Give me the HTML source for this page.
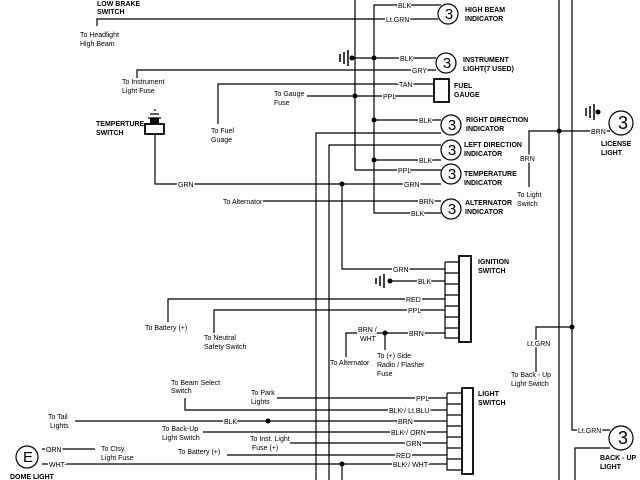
<!DOCTYPE html>
<html><head><meta charset="utf-8"><style>
html,body{margin:0;padding:0;background:#fff}
svg{display:block}
text{font-family:"Liberation Sans",sans-serif;fill:#000}
.l{font-size:7px}
.b{font-size:7px;font-weight:bold}
.w{font-size:7px}
</style></head><body>
<svg width="640" height="480" viewBox="0 0 640 480" xmlns="http://www.w3.org/2000/svg">
<g stroke="#000" stroke-width="1.2" fill="none">
<!-- verticals -->
<path d="M355 0V170H441"/>
<path d="M441 5H374V213H441"/>
<path d="M316 480V133H441"/>
<path d="M329 480V145H441"/>
<path d="M342 184V269H445"/>
<path d="M559 0V480"/>
<path d="M572 0V430H610"/>
<path d="M575 480V448H610"/>
<!-- top wires -->
<path d="M97 26V19H438"/>
<path d="M137 78V70H436"/>
<path d="M218 124V84H434"/>
<path d="M307 96H434"/>
<path d="M155 135V184H441"/>
<path d="M263 201H441"/>
<path d="M352 58H436"/>
<path d="M374 120H441"/>
<path d="M374 160H441"/>
<!-- license -->
<path d="M529 187V131H610"/>
<path d="M536 372V327H572"/>
<!-- ignition -->
<path d="M390 281H445"/>
<path d="M168 322V299H445"/>
<path d="M214 333V310H445"/>
<path d="M346 357V333H445"/>
<path d="M385 333V350"/>
<!-- light switch -->
<path d="M277 398H447"/>
<path d="M185 398V410H447"/>
<path d="M75 421H447"/>
<path d="M203 432H447"/>
<path d="M290 443H447"/>
<path d="M227 455H447"/>
<path d="M42 464H447"/>
<path d="M42 449H95"/>
<path d="M342 464V480"/>
<!-- bulbs -->
<circle cx="448" cy="14" r="10"/>
<circle cx="446" cy="63" r="10"/>
<circle cx="451" cy="125" r="10"/>
<circle cx="451" cy="150" r="10"/>
<circle cx="451" cy="174" r="10"/>
<circle cx="451" cy="209" r="10"/>
<circle cx="621" cy="123" r="12"/>
<circle cx="621" cy="438" r="12"/>
<circle cx="27" cy="457" r="11"/>
<rect x="434" y="79" width="15" height="23" stroke-width="1.8"/>
<!-- connectors -->
<rect x="459" y="256" width="12" height="86" stroke-width="1.8"/>
<path d="M445 262H459M445 262V338H459M445 273H459M445 284H459M445 295H459M445 306H459M445 317H459M445 328H459"/>
<rect x="462" y="388" width="11" height="86" stroke-width="1.8"/>
<path d="M447 393H462M447 393V470H462M447 404H462M447 415H462M447 426H462M447 437H462M447 448H462M447 459H462"/>
<!-- temp switch -->
<rect x="145" y="124" width="19" height="10" stroke-width="1.8"/>
<path d="M148 118H161M150 114H159M154 110H156"/>
<!-- grounds -->
<path d="M340 54V62M344 52V64M348 50V66" stroke-width="1.5"/>
<path d="M376 278V284M380 276V286M384 274V288" stroke-width="1.5"/>
<path d="M586 108V116M590 106V118M594 104V120" stroke-width="1.5"/>
</g>
<g fill="#000">
<circle cx="352" cy="58" r="2.5"/><circle cx="374" cy="58" r="2.5"/>
<circle cx="355" cy="96" r="2.5"/><circle cx="374" cy="120" r="2.5"/>
<circle cx="374" cy="160" r="2.5"/><circle cx="342" cy="184" r="2.5"/>
<circle cx="559" cy="131" r="2.5"/><circle cx="572" cy="327" r="2.5"/>
<circle cx="390" cy="281" r="2.5"/><circle cx="385" cy="333" r="2.5"/>
<circle cx="268" cy="421" r="2.5"/><circle cx="342" cy="464" r="2.5"/>
<circle cx="598" cy="112" r="2.5"/>
<rect x="150" y="118" width="9" height="6"/>
</g>
<g font-size="15" text-anchor="middle">
<text x="449" y="19">3</text><text x="447" y="68">3</text><text x="452" y="130">3</text>
<text x="452" y="155">3</text><text x="452" y="179">3</text><text x="452" y="214">3</text>
<text x="623" y="129" font-size="18">3</text><text x="623" y="444" font-size="18">3</text>
<text x="28" y="462">E</text>
</g>
<g class="b">
<text x="97" y="6">LOW BRAKE</text><text x="97" y="14">SWITCH</text>
<text x="465" y="12">HIGH BEAM</text><text x="465" y="21">INDICATOR</text>
<text x="463" y="62">INSTRUMENT</text><text x="463" y="71">LIGHT(7 USED)</text>
<text x="454" y="88">FUEL</text><text x="454" y="97">GAUGE</text>
<text x="466" y="122">RIGHT DIRECTION</text><text x="466" y="131">INDICATOR</text>
<text x="464" y="147">LEFT DIRECTION</text><text x="464" y="156">INDICATOR</text>
<text x="464" y="176">TEMPERATURE</text><text x="464" y="185">INDICATOR</text>
<text x="465" y="205">ALTERNATOR</text><text x="465" y="214">INDICATOR</text>
<text x="601" y="146">LICENSE</text><text x="601" y="155">LIGHT</text>
<text x="96" y="126">TEMPERTURE</text><text x="96" y="135">SWITCH</text>
<text x="478" y="264">IGNITION</text><text x="478" y="273">SWITCH</text>
<text x="478" y="396">LIGHT</text><text x="478" y="405">SWITCH</text>
<text x="600" y="460">BACK - UP</text><text x="600" y="469">LIGHT</text>
<text x="10" y="479">DOME LIGHT</text>
</g>
<g class="l">
<text x="80" y="37">To Headlight</text><text x="80" y="46">High Beam</text>
<text x="122" y="84">To Instrument</text><text x="122" y="93">Light Fuse</text>
<text x="274" y="96">To Gauge</text><text x="274" y="105">Fuse</text>
<text x="211" y="133">To Fuel</text><text x="211" y="142">Guage</text>
<text x="223" y="204">To Alternator</text>
<text x="517" y="197">To Light</text><text x="517" y="206">Switch</text>
<text x="145" y="330">To Battery (+)</text>
<text x="204" y="100" display="none"></text>
<text x="204" y="340">To Neutral</text><text x="204" y="349">Safety Switch</text>
<text x="330" y="365">To Alternator</text>
<text x="377" y="358">To (+) Side</text><text x="377" y="367">Radio / Flasher</text><text x="377" y="376">Fuse</text>
<text x="511" y="377">To Back - Up</text><text x="511" y="386">Light Switch</text>
<text x="171" y="385">To Beam Select</text><text x="171" y="393">Switch</text>
<text x="251" y="395">To Park</text><text x="251" y="404">Lights</text>
<text x="48" y="419">To Tail</text><text x="50" y="428">Lights</text>
<text x="162" y="431">To Back-Up</text><text x="162" y="440">Light Switch</text>
<text x="250" y="441">To Inst. Light</text><text x="252" y="450">Fuse (+)</text>
<text x="178" y="454">To Battery (+)</text>
<text x="101" y="451">To Ctsy.</text><text x="101" y="460">Light Fuse</text>
</g>
<g class="w" style="paint-order:stroke" stroke="#fff" stroke-width="3">
<text x="398" y="8">BLK</text><text x="386" y="22">Lt.GRN</text>
<text x="400" y="61">BLK</text><text x="412" y="73">GRY</text>
<text x="399" y="87">TAN</text><text x="383" y="99">PPL</text>
<text x="419" y="123">BLK</text><text x="419" y="163">BLK</text>
<text x="398" y="173">PPL</text><text x="404" y="187">GRN</text>
<text x="419" y="204">BRN</text><text x="411" y="216">BLK</text>
<text x="591" y="134">BRN</text><text x="520" y="161">BRN</text>
<text x="178" y="187">GRN</text>
<text x="393" y="272">GRN</text><text x="418" y="284">BLK</text>
<text x="406" y="302">RED</text><text x="408" y="313">PPL</text>
<text x="409" y="336">BRN</text>
<text x="358" y="332">BRN /</text><text x="360" y="341">WHT</text>
<text x="527" y="346">Lt.GRN</text>
<text x="578" y="433">Lt.GRN</text>
<text x="416" y="401">PPL</text><text x="389" y="413">BLK / Lt.BLU</text>
<text x="398" y="424">BRN</text><text x="391" y="435">BLK / ORN</text>
<text x="406" y="446">GRN</text><text x="396" y="458">RED</text>
<text x="393" y="467">BLK / WHT</text>
<text x="224" y="424">BLK</text>
<text x="46" y="452">ORN</text><text x="49" y="467">WHT</text>
</g>
</svg>
</body></html>
